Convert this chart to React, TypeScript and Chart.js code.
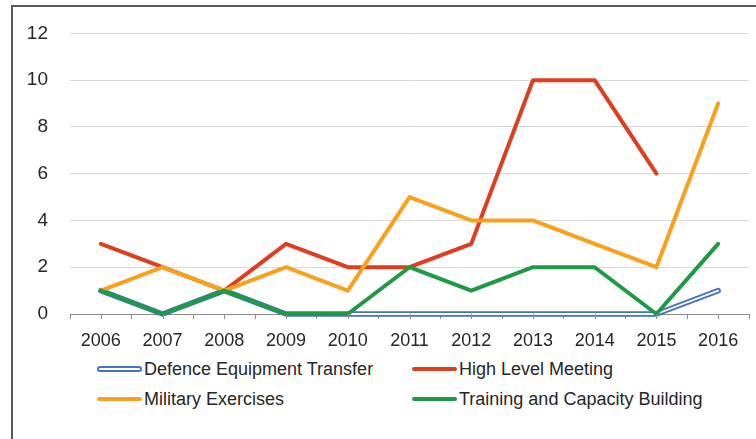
import React, { useEffect, useRef } from "react";
import { Chart, registerables } from "chart.js";

Chart.register(...registerables);

const years = ["2006", "2007", "2008", "2009", "2010", "2011", "2012", "2013", "2014", "2015", "2016"];
const defenceTransfer = [1, 0, 1, 0, 0, 0, 0, 0, 0, 0, 1];
const highLevelMeeting = [3, 2, 1, 3, 2, 2, 3, 10, 10, 6, null];
const militaryExercises = [1, 2, 1, 2, 1, 5, 4, 4, 3, 2, 9];
const trainingCapacity = [1, 0, 1, 0, 0, 2, 1, 2, 2, 0, 3];
const seriesNames = ["Defence Equipment Transfer", "High Level Meeting", "Military Exercises", "Training and Capacity Building"];
const seriesColors = ["#4472c4", "#e03c1f", "#f9a11b", "#1f9a44"];

const FONT = "'Liberation Sans', Arial, sans-serif";

const innerLinePlugin = {
  id: "innerLine",
  afterDatasetDraw(chart: any, args: any) {
    if (args.index !== 0) return;
    const pts = args.meta.data;
    const ctx = chart.ctx;
    ctx.save();
    ctx.beginPath();
    pts.forEach((p: any, i: number) => {
      if (i === 0) ctx.moveTo(p.x, p.y);
      else ctx.lineTo(p.x, p.y);
    });
    ctx.strokeStyle = "#ffffff";
    ctx.lineWidth = 1.8;
    ctx.lineJoin = "round";
    ctx.lineCap = "round";
    ctx.stroke();
    ctx.restore();
  },
};

const centerTicksPlugin = {
  id: "centerTicks",
  afterDraw(chart: any) {
    const xs = chart.scales.x;
    const ctx = chart.ctx;
    ctx.save();
    ctx.strokeStyle = "#8c8c8c";
    ctx.lineWidth = 1;
    for (let i = 0; i < years.length; i++) {
      const x = Math.round(xs.getPixelForTick(i)) + 0.5;
      ctx.beginPath();
      ctx.moveTo(x, xs.top);
      ctx.lineTo(x, xs.top + 5);
      ctx.stroke();
    }
    ctx.restore();
  },
};

export default function App() {
  const ref = useRef<HTMLCanvasElement | null>(null);
  useEffect(() => {
    if (!ref.current) return;
    const mk = (i: number, data: any[], order: number) => ({
      label: seriesNames[i],
      data,
      borderColor: seriesColors[i],
      backgroundColor: seriesColors[i],
      borderWidth: i === 0 ? 5.5 : 4,
      pointRadius: 0,
      pointHoverRadius: 0,
      borderJoinStyle: "round" as const,
      borderCapStyle: "round" as const,
      tension: 0,
      spanGaps: false,
      clip: false as const,
      order,
    });
    const chart = new Chart(ref.current, {
      type: "line",
      data: {
        labels: years,
        datasets: [
          mk(0, defenceTransfer, 4),
          mk(1, highLevelMeeting, 3),
          mk(2, militaryExercises, 2),
          mk(3, trainingCapacity, 1),
        ],
      },
      plugins: [innerLinePlugin, centerTicksPlugin],
      options: {
        responsive: false,
        animation: false,
        layout: { padding: { left: 0, right: 7, top: 31, bottom: 0 } },
        plugins: { legend: { display: false }, tooltip: { enabled: false } },
        scales: {
          x: {
            type: "category",
            offset: true,
            afterFit: (s: any) => {
              s.height = 45;
            },
            grid: {
              offset: true,
              drawOnChartArea: false,
              drawTicks: true,
              tickLength: 5,
              color: "#8c8c8c",
            },
            border: { display: true, color: "#8c8c8c", width: 1 },
            ticks: {
              color: "#262626",
              font: { family: FONT, size: 18 },
              padding: 11,
              maxRotation: 0,
              autoSkip: false,
            },
          },
          y: {
            min: 0,
            max: 12,
            afterFit: (s: any) => {
              s.width = 70;
            },
            grid: { color: "#d9d9d9", drawTicks: false, lineWidth: 1 },
            border: { display: false },
            ticks: {
              stepSize: 2,
              color: "#262626",
              font: { family: FONT, size: 19 },
              padding: 22,
            },
          },
        },
      },
    });
    return () => chart.destroy();
  }, []);

  const legendItem = (i: number, left: number, top: number) => (
    <div
      key={i}
      style={{
        position: "absolute",
        left,
        top,
        display: "flex",
        alignItems: "center",
        fontFamily: FONT,
        fontSize: 18,
        color: "#262626",
        whiteSpace: "nowrap",
        lineHeight: "20px",
      }}
    >
      {i === 0 ? (
        <span
          style={{
            display: "inline-block",
            width: 41,
            height: 2,
            border: `2px solid ${seriesColors[0]}`,
            borderRadius: 4,
            background: "#fff",
          }}
        />
      ) : (
        <span
          style={{
            display: "inline-block",
            width: 45,
            height: 4,
            borderRadius: 2,
            background: seriesColors[i],
          }}
        />
      )}
      <span style={{ marginLeft: 2 }}>{seriesNames[i]}</span>
    </div>
  );

  return (
    <div style={{ position: "fixed", left: 0, top: 0, width: 756, height: 439, background: "#fff", overflow: "hidden" }}>
      <div
        style={{
          position: "absolute",
          left: 11,
          top: 5,
          width: 760,
          height: 460,
          borderLeft: "2px solid #595959",
          borderTop: "2px solid #595959",
          boxSizing: "border-box",
        }}
      />
      <canvas ref={ref} width={756} height={359} style={{ position: "absolute", left: 0, top: 0 }} />
      {legendItem(0, 97, 359)}
      {legendItem(1, 412, 359)}
      {legendItem(2, 97, 389)}
      {legendItem(3, 412, 389)}
    </div>
  );
}
